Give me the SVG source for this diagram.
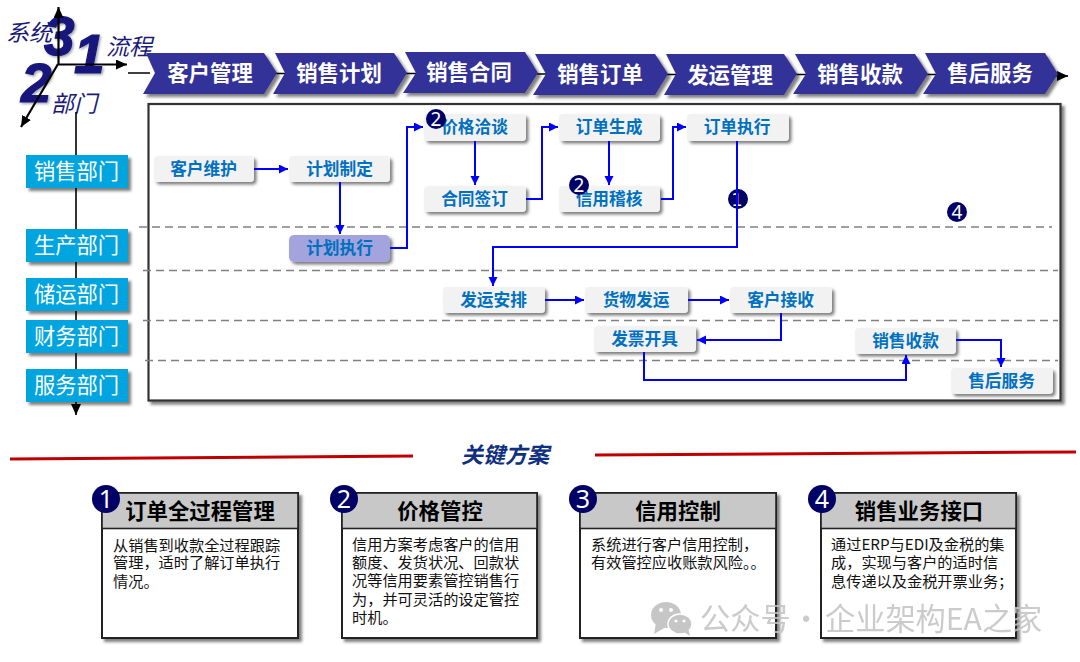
<svg xmlns="http://www.w3.org/2000/svg" width="1080" height="662" viewBox="0 0 1080 662">
<style>
text{font-family:"Noto Sans CJK SC","Liberation Sans",sans-serif}
.chev polygon{fill:#333399;filter:url(#sh)}
.chev text{fill:#fff;font-size:21.4px;font-weight:700;text-anchor:middle}
.dept rect{fill:#00a5e0;filter:url(#sh)}
.dept text{fill:#fff;font-size:21.3px;text-anchor:middle}
.proc rect{fill:#f2f2f2;filter:url(#sh2)}
.proc.hl rect{fill:#a3a3dd}
.proc text{fill:#0070c0;font-size:16.7px;font-weight:700;text-anchor:middle}
.dash{stroke:#808080;stroke-width:1.3;stroke-dasharray:8 5;fill:none}
.axis{stroke:#000;stroke-width:2.2;fill:none}
.flow{stroke:#0000ff;stroke-width:2;fill:none;marker-end:url(#blue)}
.badge circle{fill:#000066}
.badge text{fill:#fff;text-anchor:middle;font-family:"Noto Sans","Liberation Sans",sans-serif}
.small text{font-size:19px}
.big text{font-size:25px}
.card .body{fill:#fff;stroke:#222;stroke-width:2;filter:url(#sh)}
.card .head{fill:#c8c8c8;stroke:#222;stroke-width:1.6}
.card .title{font-size:21.4px;font-weight:700;fill:#000;text-anchor:middle}
.card .txt{font-size:15.2px;fill:#111}
.axlabel{font-size:23px;font-style:italic;fill:#1a1a7a}
.digit{font-family:"Liberation Sans",sans-serif;font-size:55px;font-weight:700;font-style:italic;fill:#14147c;stroke:#14147c;stroke-width:1.2;filter:url(#sh3)}
.wm{fill:#c2c2c2;font-size:30.2px}
</style>
<defs>
<filter id="sh" x="-10%" y="-20%" width="125%" height="150%"><feDropShadow dx="3" dy="3" stdDeviation="1.6" flood-color="#000" flood-opacity=".5"/></filter>
<filter id="sh2" x="-10%" y="-20%" width="125%" height="150%"><feDropShadow dx="2.5" dy="2.5" stdDeviation="1.4" flood-color="#000" flood-opacity=".5"/></filter>
<filter id="sh3" x="-30%" y="-30%" width="170%" height="170%"><feDropShadow dx="1.5" dy="1.5" stdDeviation="1" flood-color="#000" flood-opacity=".35"/></filter>
<marker id="blue" markerUnits="userSpaceOnUse" markerWidth="10" markerHeight="10" refX="9" refY="4.5" orient="auto"><path d="M0 0L9 4.5L0 9Z" fill="#0000ff"/></marker>
<marker id="black" markerUnits="userSpaceOnUse" markerWidth="12" markerHeight="12" refX="11" refY="5" orient="auto"><path d="M0 0L11 5L0 10Z" fill="#000"/></marker>
</defs>

<!-- axis glyphs -->
<g id="axes">
<text class="digit" x="44" y="55">3</text>
<text class="digit" x="74" y="73">1</text>
<text class="digit" x="21" y="102">2</text>
<path class="axis" d="M58.500 64V7" marker-end="url(#black)"/>
<path class="axis" d="M58 64.500H127" marker-end="url(#black)"/>
<path class="axis" d="M58 64L21 127" marker-end="url(#black)"/>
<text class="axlabel" x="6" y="41">系统</text>
<text class="axlabel" x="106" y="55">流程</text>
<text class="axlabel" x="51" y="112">部门</text>
</g>

<!-- process spine and department spine -->
<g id="spines">
<path class="axis" style="stroke-width:1.4" d="M128 73H150M270 73.500H290M400 73.500H420M530 74H548M660 74.500H680M790 74.500H808M920 74.500H940"/>
<path class="axis" style="stroke-width:1.6" d="M1050 76H1068" marker-end="url(#black)"/>
<path class="axis" style="stroke-width:1.6" d="M76 112V415" marker-end="url(#black)"/>
</g>

<g id="steps" class="chev">
<g id="step-1"><polygon points="146,53 264,53 277,73 264,94 143,94 155,73"/><text x="210" y="81">客户管理</text></g>
<g id="step-2"><polygon points="275,53 394,53 407,73 394,94 273,94 285,73"/><text x="339" y="81">销售计划</text></g>
<g id="step-3"><polygon points="405,52 525,52 538,73 525,93 403,93 416,73"/><text x="469" y="80">销售合同</text></g>
<g id="step-4"><polygon points="535,54 655,54 668,74 655,95 533,95 546,74"/><text x="600" y="82">销售订单</text></g>
<g id="step-5"><polygon points="666,54 784,54 797,74 784,95 664,95 676,74"/><text x="730" y="83">发运管理</text></g>
<g id="step-6"><polygon points="795,54 915,54 928,74 915,94 793,94 806,74"/><text x="860" y="82">销售收款</text></g>
<g id="step-7"><polygon points="925,53 1045,53 1058,74 1045,94 923,94 936,74"/><text x="990" y="81">售后服务</text></g>
</g>

<rect id="lane-frame" x="148.500" y="104" width="912" height="296.500" fill="#fff" stroke="#333" stroke-width="2.2" filter="url(#sh)"/>

<g id="lanes">
<path class="dash" d="M139 227H1052"/>
<path class="dash" d="M143 270.500H1058"/>
<path class="dash" d="M143 320.500H1058"/>
<path class="dash" d="M145 360.500H1058"/>
</g>

<g id="departments" class="dept">
<g id="dept-sales"><rect x="26" y="155" width="102" height="33"/><text x="76.500" y="179">销售部门</text></g>
<g id="dept-prod"><rect x="26" y="229" width="102" height="33"/><text x="76.500" y="253">生产部门</text></g>
<g id="dept-store"><rect x="26" y="278" width="102" height="33"/><text x="76.500" y="302">储运部门</text></g>
<g id="dept-fin"><rect x="26" y="320" width="102" height="33"/><text x="76.500" y="344">财务部门</text></g>
<g id="dept-svc"><rect x="26" y="369" width="102" height="33"/><text x="76.500" y="393">服务部门</text></g>
</g>

<g id="nodes">
<g id="n-kehu" class="proc"><rect x="154" y="156" width="100" height="26" rx="4"/><text x="203.500" y="175">客户维护</text></g>
<g id="n-jhzd" class="proc"><rect x="289" y="156" width="101" height="26" rx="4"/><text x="339.500" y="175">计划制定</text></g>
<g id="n-jhzx" class="proc hl"><rect x="289" y="235" width="101" height="27" rx="5"/><text x="339.500" y="254">计划执行</text></g>
<g id="n-jgqt" class="proc"><rect x="424" y="114" width="102" height="27" rx="4"/><text x="474.500" y="133">价格洽谈</text></g>
<g id="n-htqd" class="proc"><rect x="424" y="186" width="102" height="26" rx="4"/><text x="474.500" y="205">合同签订</text></g>
<g id="n-ddsc" class="proc"><rect x="559" y="114" width="101" height="27" rx="4"/><text x="609" y="133">订单生成</text></g>
<g id="n-xyjh" class="proc"><rect x="559" y="186" width="101" height="26" rx="4"/><text x="609" y="205">信用稽核</text></g>
<g id="n-ddzx" class="proc"><rect x="687" y="114" width="102" height="27" rx="4"/><text x="737" y="133">订单执行</text></g>
<g id="n-fyap" class="proc"><rect x="443" y="287" width="102" height="26" rx="4"/><text x="493.500" y="306">发运安排</text></g>
<g id="n-hwfy" class="proc"><rect x="585" y="287" width="103" height="26" rx="4"/><text x="636" y="306">货物发运</text></g>
<g id="n-khjs" class="proc"><rect x="730" y="287" width="102" height="26" rx="4"/><text x="780.500" y="306">客户接收</text></g>
<g id="n-fpkj" class="proc"><rect x="594" y="326" width="102" height="26" rx="4"/><text x="644.500" y="345">发票开具</text></g>
<g id="n-xssk" class="proc"><rect x="855" y="328" width="101" height="26" rx="4"/><text x="905.500" y="347">销售收款</text></g>
<g id="n-shfw" class="proc"><rect x="951" y="368" width="102" height="26" rx="4"/><text x="1001.500" y="387">售后服务</text></g>
</g>

<g id="markers">
<g class="badge small"><circle cx="436" cy="119" r="10"/><text x="436" y="126">2</text></g>
<g class="badge small"><circle cx="579" cy="185" r="10"/><text x="579" y="192">2</text></g>
<g class="badge small"><circle cx="738" cy="199" r="10"/><text x="737" y="206" style="font-family:'DejaVu Sans',sans-serif;font-size:18px">1</text></g>
<g class="badge small"><circle cx="957" cy="212" r="10"/><text x="957" y="219">4</text></g>
</g>

<g id="connectors">
<path class="flow" d="M254 169H288"/>
<path class="flow" d="M340 182V234"/>
<path class="flow" d="M390 248H407V127H423"/>
<path class="flow" d="M475 141V185"/>
<path class="flow" d="M526 199H542V127H558"/>
<path class="flow" d="M609 141V185"/>
<path class="flow" d="M661 199H673V127H686"/>
<path class="flow" d="M737 141V247H493V286"/>
<path class="flow" d="M545 300H584"/>
<path class="flow" d="M688 300H729"/>
<path class="flow" d="M781 313V340H697"/>
<path class="flow" d="M644 352V380H906V355"/>
<path class="flow" d="M956 340H1001V367"/>
</g>

<g id="heading">
<path d="M10 459L413 456M595 455L1076 452" stroke="#c00000" stroke-width="3" fill="none"/>
<text x="505" y="463" font-size="22" font-weight="700" font-style="italic" fill="#0f2f80" text-anchor="middle">关键方案</text>
</g>

<g id="card-1" class="card">
<rect class="body" x="102" y="493" width="196" height="145"/><rect class="head" x="102" y="493" width="196" height="35.500"/>
<text class="title" x="200" y="519">订单全过程管理</text>
<text class="txt"><tspan x="113" y="551">从销售到收款全过程跟踪</tspan><tspan x="113" y="568">管理，适时了解订单执行</tspan><tspan x="113" y="587">情况。</tspan></text>
<g class="badge big"><circle cx="106" cy="499" r="14"/><text x="106" y="508">1</text></g>
</g>
<g id="card-2" class="card">
<rect class="body" x="342" y="493" width="195" height="145"/><rect class="head" x="342" y="493" width="195" height="35.500"/>
<text class="title" x="440" y="519">价格管控</text>
<text class="txt"><tspan x="352" y="550">信用方案考虑客户的信用</tspan><tspan x="352" y="568">额度、发货状况、回款状</tspan><tspan x="352" y="586">况等信用要素管控销售行</tspan><tspan x="352" y="605">为，并可灵活的设定管控</tspan><tspan x="352" y="623">时机。</tspan></text>
<g class="badge big"><circle cx="344" cy="499" r="14"/><text x="344" y="508">2</text></g>
</g>
<g id="card-3" class="card">
<rect class="body" x="580" y="493" width="196" height="145"/><rect class="head" x="580" y="493" width="196" height="35.500"/>
<text class="title" x="678" y="519">信用控制</text>
<text class="txt"><tspan x="591" y="550">系统进行客户信用控制，</tspan><tspan x="591" y="568">有效管控应收账款风险。。</tspan></text>
<g class="badge big"><circle cx="583" cy="499" r="14"/><text x="583" y="508">3</text></g>
</g>
<g id="card-4" class="card">
<rect class="body" x="821" y="493" width="195" height="145"/><rect class="head" x="821" y="493" width="195" height="35.500"/>
<text class="title" x="919" y="519">销售业务接口</text>
<text class="txt"><tspan x="831" y="550">通过ERP与EDI及金税的集</tspan><tspan x="831" y="568">成，实现与客户的适时信</tspan><tspan x="831" y="587">息传递以及金税开票业务；</tspan></text>
<g class="badge big"><circle cx="822" cy="499" r="14"/><text x="822" y="508">4</text></g>
</g>

<!-- account mark, bottom right -->
<g id="account-mark" opacity=".85">
<ellipse cx="666" cy="615" rx="15" ry="13" fill="#bdbdbd"/>
<path d="M656 623L654 634L666 627Z" fill="#bdbdbd"/>
<ellipse cx="680" cy="624" rx="12" ry="10" fill="#bdbdbd" stroke="#fff" stroke-width="1.500"/>
<path d="M684 632L690 636L688 628Z" fill="#bdbdbd"/>
<circle cx="661" cy="610" r="2" fill="#fff"/><circle cx="671" cy="610" r="2" fill="#fff"/>
<circle cx="676" cy="621" r="1.600" fill="#fff"/><circle cx="684" cy="621" r="1.600" fill="#fff"/>
<text class="wm"><tspan x="700" y="630">公众号</tspan><tspan x="791" y="630">·</tspan><tspan x="825" y="630">企业架构EA之家</tspan></text>
</g>
</svg>
